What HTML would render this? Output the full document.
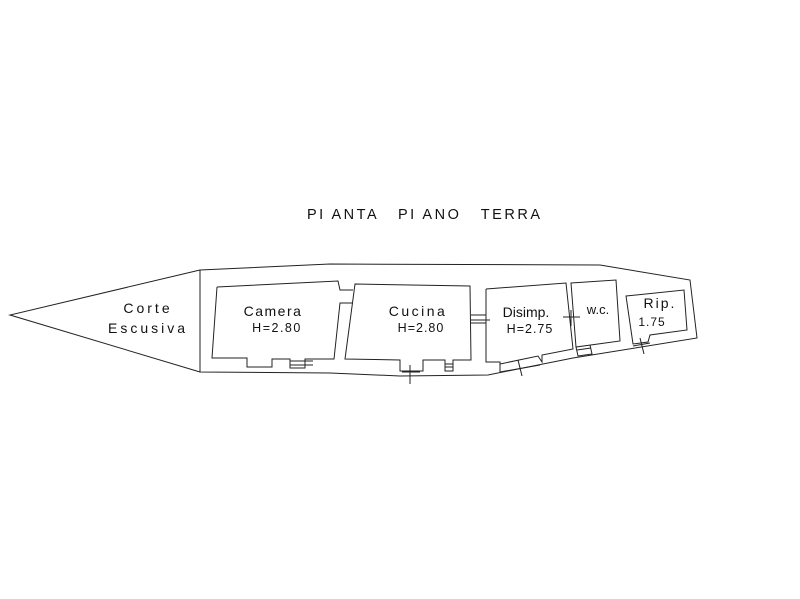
<!DOCTYPE html>
<html><head><meta charset="utf-8"><style>
html,body{margin:0;padding:0;background:#fff;}
svg{display:block}
text{font-family:"Liberation Sans",sans-serif;fill:#111;white-space:pre;}
</style></head><body>
<svg width="800" height="599" viewBox="0 0 800 599" xmlns="http://www.w3.org/2000/svg">
<g fill="none" stroke="#222" stroke-width="1">
<path d="M200,270 L10,315 L200,372"/>
<path d="M200,270 L330,264 L600,265 L690,280 L697,338 L573,358 L488,375 L400,376 L330,373 L200,372 Z"/>
<path d="M217,287 L338,281 L340,290 L353,290"/>
<path d="M353,303 L340,303 L334,359 L305,359 L305,368 L290,368 L290,359 L272,359 L272,367 L247,367 L247,358 L212,358 L217,287"/>
<path d="M290,361 L313,361 M290,365 L313,365"/>
<path d="M355,284 L470,286 L471,360 L453,360 L453,371 L445,371 L445,360 L423,360 L423,371 L400,371 L400,360 L345,359 Z"/>
<path d="M445,364 L453,364 M445,367 L453,367"/>
<path d="M410,365 L410,384 M402,372 L420,372"/>
<path d="M471,315 L486,315 M471,323 L486,323 M470,320 L490,320"/>
<path d="M486,289 L566,283 L573,349 L542,355 L542,362 L538,356 L500,364 L500,372 M486,289 L486,362 L500,362 L500,372"/>
<path d="M500,372 L540,365"/>
<path d="M518,360 L522,376"/>
<path d="M571,283 L616,280 L620,341 L576,347 Z"/>
<path d="M576,347 L578,356 L592,354 L590,345 M577,350 L591,348"/>
<path d="M563,317 L580,317 M571,310 L571,326"/>
<path d="M626,296 L684,290 L687,330 L650,335 L648,342 L633,344 Z"/>
<path d="M640,338 L644,354 M633,346 L650,343"/>
</g>
<text x="307" y="219" font-size="14.5" textLength="233" lengthAdjust="spacing">PI ANTA   PI ANO   TERRA</text>
<text x="148" y="313" font-size="14" text-anchor="middle" letter-spacing="3">Corte</text>
<text x="148" y="333" font-size="14" text-anchor="middle" letter-spacing="3">Escusiva</text>
<text x="273" y="316" font-size="14" text-anchor="middle" letter-spacing="1.5">Camera</text>
<text x="277" y="332" font-size="12.5" text-anchor="middle" letter-spacing="1.5">H=2.80</text>
<text x="418" y="316" font-size="14" text-anchor="middle" letter-spacing="2.5">Cucina</text>
<text x="421" y="332" font-size="12.5" text-anchor="middle" letter-spacing="1">H=2.80</text>
<text x="526" y="317" font-size="14" text-anchor="middle">Disimp.</text>
<text x="530" y="333" font-size="12.5" text-anchor="middle" letter-spacing="1">H=2.75</text>
<text x="598" y="314" font-size="13" text-anchor="middle">w.c.</text>
<text x="660" y="308" font-size="14" text-anchor="middle" letter-spacing="2">Rip.</text>
<text x="652" y="326" font-size="12" text-anchor="middle" letter-spacing="1">1.75</text>
</svg>
</body></html>
